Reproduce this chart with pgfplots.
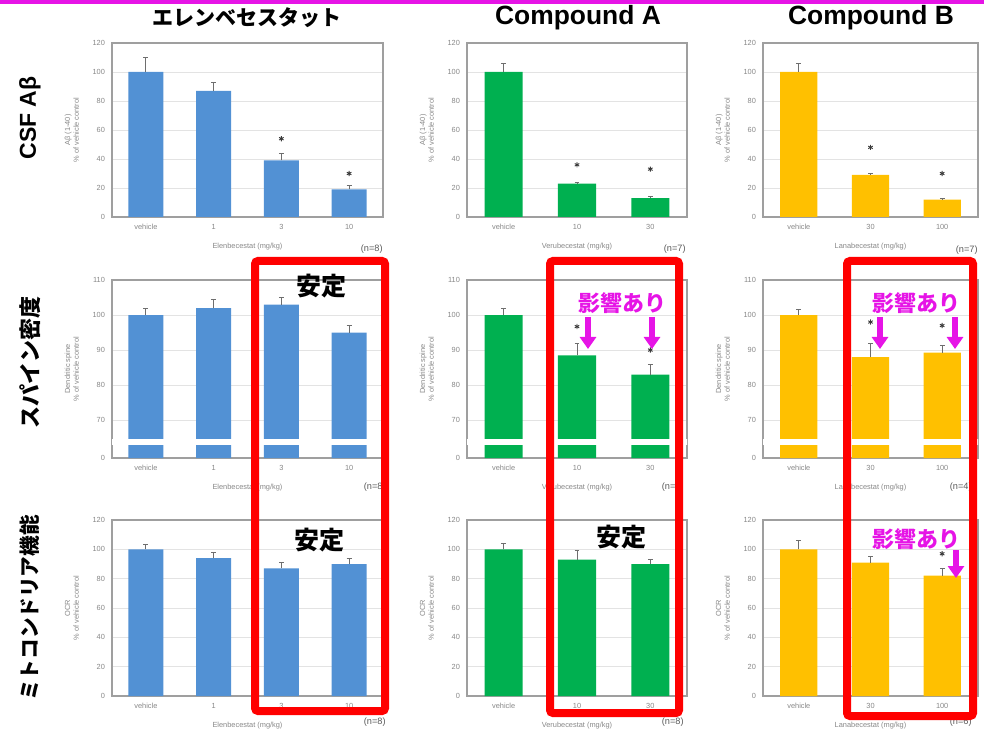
\documentclass[border=0pt]{standalone}
\usepackage{fontspec}
\setmainfont{Liberation Sans}
\newfontfamily\jp{Noto Sans CJK JP}
\usepackage{pgfplots}
\pgfplotsset{compat=1.18}
\usetikzlibrary{arrows.meta}
\definecolor{cblue}{RGB}{82,145,212}
\definecolor{cgreen}{RGB}{0,176,80}
\definecolor{corange}{RGB}{255,192,0}
\definecolor{mag}{RGB}{230,20,230}
\definecolor{tgray}{RGB}{135,135,135}
\definecolor{ebar}{RGB}{110,110,110}

\pgfplotsset{
  panel/.style={
    scale only axis,
    axis line style={draw=gray!75, line width=0.6pt},
    major tick length=0pt,
    ymajorgrids, grid style={gray!22, line width=0.3pt},
    /pgf/number format/assume math mode=true,
    ticklabel style={font=\fontsize{3.7}{4}\selectfont, text=tgray},
    label style={font=\fontsize{3.7}{4.3}\selectfont, text=tgray, align=center},
    clip=true,
  },
  col1/.style={panel, width=135.5pt, xmin=-0.5, xmax=3.5, xtick={0,1,2,3},
    xticklabels={vehicle,1,3,10}, xlabel={Elenbecestat (mg/kg)}},
  col2/.style={panel, width=110pt, xmin=-0.5, xmax=2.5, xtick={0,1,2},
    xticklabels={vehicle,10,30}, xlabel={Verubecestat (mg/kg)}},
  col3/.style={panel, width=107.5pt, xmin=-0.5, xmax=2.5, xtick={0,1,2},
    xticklabels={vehicle,30,100}, xlabel={Lanabecestat (mg/kg)}},
  row1/.style={height=87pt, ymin=0, ymax=120, ytick={0,20,...,120},
    ylabel={Aβ (1-40)\\\% of vehicle control}},
  row2/.style={height=89pt, ymin=59.2, ymax=110, ytick={59.2,70,80,90,100,110},
    yticklabels={0,70,80,90,100,110},
    ylabel={Dendritic spine\\\% of vehicle control}},
  row3/.style={height=88pt, ymin=0, ymax=120, ytick={0,20,...,120},
    ylabel={OCR\\\% of vehicle control}},
  bars/.style={ybar, bar width=0.52, draw=none, fill=#1,
    error bars/.cd, y dir=plus, y explicit,
    error bar style={ebar, line width=0.4pt},
    error mark options={rotate=90, mark size=1.2pt, ebar, line width=0.4pt}},
  stars/.style={only marks, mark=asterisk, mark size=1.3pt,
    mark options={gray!45!black, line width=0.45pt}},
  brk/.style={sharp plot, draw=none, fill=white, forget plot},
}

\begin{document}
\begin{tikzpicture}
% ---------------- Row 1 : CSF Abeta ----------------
\begin{axis}[col1,row1,at={(56pt,-108.5pt)},anchor=south west]
\addplot[bars=cblue] coordinates {(0,100)+-(0,10) (1,87)+-(0,6) (2,39)+-(0,5) (3,19)+-(0,3)};
\addplot[stars] coordinates {(2,54) (3,30)};
\end{axis}
\begin{axis}[col2,row1,at={(233.5pt,-108.5pt)},anchor=south west]
\addplot[bars=cgreen] coordinates {(0,100)+-(0,6) (1,23)+-(0,1) (2,13)+-(0,1)};
\addplot[stars] coordinates {(1,36) (2,33)};
\end{axis}
\begin{axis}[col3,row1,at={(381.5pt,-108.5pt)},anchor=south west]
\addplot[bars=corange] coordinates {(0,100)+-(0,6) (1,29)+-(0,1) (2,12)+-(0,1)};
\addplot[stars] coordinates {(1,48) (2,30)};
\end{axis}
% ---------------- Row 2 : spine density ----------------
\begin{axis}[col1,row2,at={(56pt,-229pt)},anchor=south west]
\addplot[bars=cblue] coordinates {(0,100)+-(0,2) (1,102)+-(0,2.5) (2,103)+-(0,2) (3,95)+-(0,2)};
\addplot[brk] coordinates {(-0.6,63) (3.6,63) (3.6,64.6) (-0.6,64.6)} --cycle;
\end{axis}
\begin{axis}[col2,row2,at={(233.5pt,-229pt)},anchor=south west]
\addplot[bars=cgreen] coordinates {(0,100)+-(0,2) (1,88.5)+-(0,3.5) (2,83)+-(0,3)};
\addplot[stars] coordinates {(1,96.7) (2,90)};
\addplot[brk] coordinates {(-0.6,63) (2.6,63) (2.6,64.6) (-0.6,64.6)} --cycle;
\end{axis}
\begin{axis}[col3,row2,at={(381.5pt,-229pt)},anchor=south west]
\addplot[bars=corange] coordinates {(0,100)+-(0,1.5) (1,88)+-(0,4) (2,89.3)+-(0,2)};
\addplot[stars] coordinates {(1,98) (2,97)};
\addplot[brk] coordinates {(-0.6,63) (2.6,63) (2.6,64.6) (-0.6,64.6)} --cycle;
\end{axis}
% ---------------- Row 3 : OCR ----------------
\begin{axis}[col1,row3,at={(56pt,-348pt)},anchor=south west]
\addplot[bars=cblue] coordinates {(0,100)+-(0,3.5) (1,94)+-(0,4) (2,87)+-(0,4) (3,90)+-(0,4)};
\end{axis}
\begin{axis}[col2,row3,at={(233.5pt,-348pt)},anchor=south west]
\addplot[bars=cgreen] coordinates {(0,100)+-(0,4) (1,93)+-(0,6) (2,90)+-(0,3)};
\end{axis}
\begin{axis}[col3,row3,at={(381.5pt,-348pt)},anchor=south west]
\addplot[bars=corange] coordinates {(0,100)+-(0,6) (1,91)+-(0,4) (2,82)+-(0,5)};
\addplot[stars] coordinates {(2,97)};
\end{axis}

% ---------------- annotations (pixel units) ----------------
\begin{scope}[x=0.5pt,y=-0.5pt]
\path[use as bounding box] (0,0) rectangle (984,727);
\fill[mag] (0,0) rectangle (984,4);
% column titles
\node[font=\jp\bfseries\fontsize{10.5}{12}\selectfont] at (247,18) {エレンベセスタット};
\node[font=\bfseries\fontsize{13.2}{14}\selectfont] at (578,18) {Compound A};
\node[font=\bfseries\fontsize{13.2}{14}\selectfont] at (871,18) {Compound B};
% row labels
\node[rotate=90, font=\bfseries\fontsize{11.5}{13}\selectfont] at (30,118) {CSF Aβ};
\node[rotate=90, font=\jp\bfseries\fontsize{11}{13}\selectfont] at (30,362) {スパイン密度};
\node[rotate=90, font=\jp\bfseries\fontsize{10.3}{12}\selectfont] at (30,608) {ミトコンドリア機能};
% n labels
\begin{scope}[every node/.style={anchor=east, font=\fontsize{4.6}{5}\selectfont, text=gray!70!black, inner sep=0pt}]
\node at (383,249) {(n=8)};
\node at (686,249) {(n=7)};
\node at (978,250) {(n=7)};
\node at (386,487) {(n=8)};
\node at (684,487) {(n=5)};
\node at (972,487) {(n=4)};
\node at (386,722) {(n=8)};
\node at (684,722) {(n=8)};
\node at (972,722) {(n=6)};
\end{scope}
% red boxes
\draw[red, line width=4pt, rounded corners=1.5pt] (255,261) rectangle (385,711);
\draw[red, line width=4pt, rounded corners=1.5pt] (550,261) rectangle (679,713);
\draw[red, line width=4pt, rounded corners=1.5pt] (847,261) rectangle (973,716);
% texts
\node[font=\jp\bfseries\fontsize{12.5}{14}\selectfont] at (321,286) {安定};
\node[font=\jp\bfseries\fontsize{12.5}{14}\selectfont] at (319,540) {安定};
\node[font=\jp\bfseries\fontsize{12.5}{14}\selectfont] at (621,537) {安定};
\node[text=mag, font=\jp\bfseries\fontsize{11}{13}\selectfont] at (622,303) {影響あり};
\node[text=mag, font=\jp\bfseries\fontsize{11}{13}\selectfont] at (916,303) {影響あり};
\node[text=mag, font=\jp\bfseries\fontsize{11}{13}\selectfont] at (916,539) {影響あり};
% arrows
\begin{scope}[mag, line width=2.6pt, -{Triangle[width=8pt,length=6pt]}]
\draw (588,317) -- (588,349);
\draw (652,317) -- (652,349);
\draw (880,317) -- (880,349);
\draw (955,317) -- (955,349);
\draw (956,550) -- (956,578);
\end{scope}
\end{scope}
\end{tikzpicture}
\end{document}
